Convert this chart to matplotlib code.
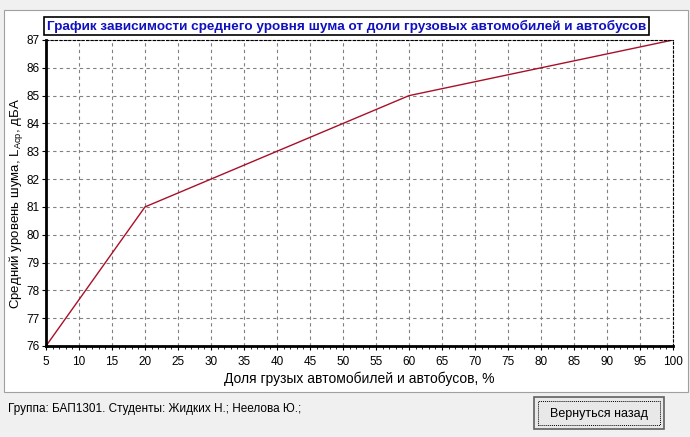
import matplotlib
matplotlib.use("Agg")
from matplotlib import pyplot as plt
from matplotlib.patches import Rectangle
from matplotlib.ticker import MultipleLocator

plt.rcParams['font.family'] = ['Liberation Sans', 'DejaVu Sans']
plt.rcParams['mathtext.fontset'] = 'custom'
plt.rcParams['mathtext.rm'] = 'Liberation Sans'

# доля грузовых автомобилей, % и средний уровень шума, дБА
share = [5, 20, 60, 100]
noise = [76, 81, 85, 87]
xticks = list(range(5, 101, 5))
yticks = list(range(76, 88))

W, H = 690, 437
fig = plt.figure(figsize=(W / 100, H / 100), dpi=100)
fig.patch.set_facecolor('#f0f0f0')

# белая панель графика
fig.add_artist(Rectangle((4 / W, 1 - 392 / H), 684 / W, 382 / H,
                         transform=fig.transFigure, facecolor='white',
                         edgecolor='#a0a0a0', lw=0.8, zorder=-5))

ax = fig.add_axes([46 / W, 1 - 346 / H, 627 / W, 306 / H])
ax.set_facecolor('none')
ax.plot(share, noise, c='#a81028', lw=1)
ax.set_xlim(5, 100)
ax.set_ylim(76, 87)
ax.set_xticks(xticks)
ax.set_yticks(yticks)
ax.xaxis.set_minor_locator(MultipleLocator(1))
ax.tick_params(labelsize=8.5, length=3, direction='out', pad=1.5)
ax.tick_params(axis='x', which='major', pad=4)
ax.tick_params(axis='x', which='minor', length=2, direction='out')
ax.grid(True, ls=(0, (3, 3)), color='#808080', lw=0.8)
for s in ['left', 'bottom']:
    ax.spines[s].set_linewidth(2)
for s in ['top', 'right']:
    ax.spines[s].set_linestyle((0, (2, 2)))
    ax.spines[s].set_linewidth(0.8)
ax.set_xlabel("Доля грузых автомобилей и автобусов, %", fontsize=10, labelpad=3)
ax.set_ylabel(r"Средний уровень шума, L$_{\mathrm{Аср}}$, дБА", fontsize=9.5, va='center')
ax.yaxis.set_label_coords(-0.047, 0.465)

fig.text((43 + 650) / 2 / W, 1 - 26 / H,
         "График зависимости среднего уровня шума от доли грузовых автомобилей и автобусов",
         ha='center', va='center', fontsize=9.7, fontweight='bold', color='#1010c0',
         bbox=dict(boxstyle='square,pad=0.2', facecolor='white', edgecolor='black', lw=1.2))

fig.text(8 / W, 1 - 409 / H, "Группа: БАП1301. Студенты: Жидких Н.; Неелова Ю.;",
         ha='left', va='center', fontsize=8.5)

# кнопка
fig.add_artist(Rectangle((534 / W, 1 - 429 / H), 130 / W, 32 / H,
                         transform=fig.transFigure, facecolor='#e8e8e8',
                         edgecolor='#606060', lw=1.2))
fig.add_artist(Rectangle((538 / W, 1 - 425 / H), 122 / W, 24 / H,
                         transform=fig.transFigure, facecolor='none',
                         edgecolor='black', lw=0.7, ls=(0, (1, 1))))
fig.text(599 / W, 1 - 414 / H, "Вернуться назад", ha='center', va='center', fontsize=9)

fig.savefig("out.png", dpi=100, facecolor=fig.get_facecolor())
